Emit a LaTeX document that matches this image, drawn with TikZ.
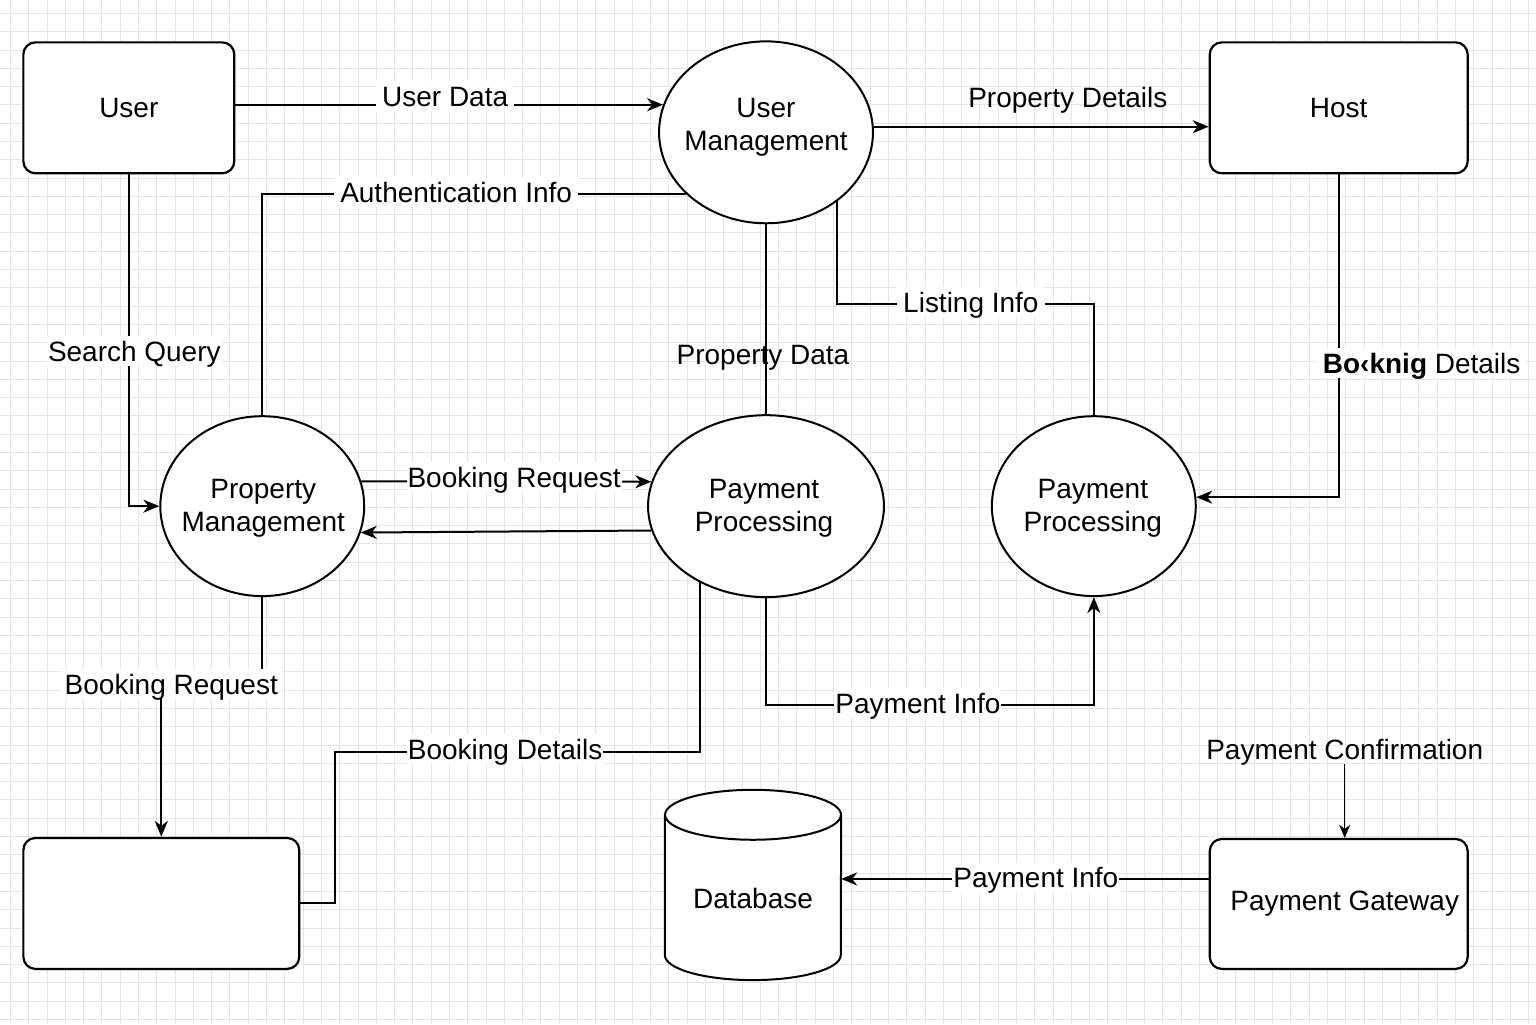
\documentclass[tikz,border=0pt]{standalone}
\usepackage{fontspec}
\setmainfont{Liberation Sans}
\usetikzlibrary{shapes.geometric,arrows.meta}
\begin{document}
\begin{tikzpicture}[x=1pt,y=-1pt,
  every node/.style={font=\fontsize{28}{33}\selectfont},
  box/.style={draw, line width=2.2pt, rounded corners=12pt, fill=white, inner sep=0, align=center},
  proc/.style={draw, ellipse, line width=2pt, fill=white, inner sep=0},
  ptext/.style={align=center, inner sep=0},
  flow/.style={line width=2pt},
  arr/.style={flow, -{Stealth[length=16pt,width=13pt,inset=5pt]}},
  lbl/.style={fill=white, inner xsep=6pt, inner ysep=1pt, text height=24pt, text depth=4pt},
  plainlbl/.style={inner sep=1pt, text height=24pt, text depth=4pt},
  cyl/.style={line width=2pt},
  gridline/.style={draw=black!10, line width=0.8pt}]

% background and grid
\fill[white] (0,0) rectangle (1536,1024);
\foreach \i in {0,...,83} { \draw[gridline] ({10+18.3*\i},0) -- ({10+18.3*\i},1024); }
\foreach \j in {0,...,55} { \draw[gridline] (0,{13+18.3*\j}) -- (1536,{13+18.3*\j}); }

% nodes
\node[box, minimum width=211, minimum height=131] (user) at (128.5,107.5) {User};
\node[box, minimum width=258, minimum height=131] (host) at (1339,107.5) {Host};
\node[box, minimum width=276, minimum height=131] (bk) at (161,903.5) {};
\node[box, minimum width=258, minimum height=130] (gw) at (1339,904) {\hspace*{12pt}Payment Gateway};

\node[proc, minimum width=214, minimum height=182] (um) at (766,132) {};
\node[ptext] (umt) at (766,127) {User\\Management};
\node[proc, minimum width=204, minimum height=180] (pm) at (262,506) {};
\node[ptext] (pmt) at (263,508) {Property\\Management};
\node[proc, minimum width=236, minimum height=182] (pp1) at (766,506) {};
\node[ptext] (pp1t) at (764,508) {Payment\\Processing};
\node[proc, minimum width=204, minimum height=180] (pp2) at (1094,506) {};
\node[ptext] (pp2t) at (1093,508) {Payment\\Processing};

% database
\node[inner sep=0, minimum width=176, minimum height=190] (db) at (753,885) {};
\fill[white] ([yshift=-25pt]db.north west) rectangle ([yshift=25pt]db.south east);
\fill[white] ([yshift=25pt]db.south) ellipse[x radius=88pt, y radius=25pt];
\draw[cyl] ([yshift=-25pt]db.north west) -- ([yshift=25pt]db.south west)
  arc[start angle=180, end angle=360, x radius=88pt, y radius=25pt]
  -- ([yshift=-25pt]db.north east);
\draw[cyl, fill=white] ([yshift=-25pt]db.north) ellipse[x radius=88pt, y radius=25pt];
\node (dbt) at (753,899) {Database};

% helper coordinates
\coordinate (li) at (971,304);
\coordinate (bdc) at (335,752);
\coordinate (pic) at (918,705);
\coordinate (dbin) at ([yshift=6pt]db.east);

% connectors
\draw[arr] (user.east |- um.165) -- (um.165);
\draw[arr] (um.3) -- (host.west |- um.3);
\draw[flow] (um.218) -| (pm.north);
\draw[arr] (user.south) |- (pm.west);
\draw[flow] (um.south) -- (pp1.north);
\draw[flow] (um.316) |- (li) -| (pp2.north);
\draw[arr] (host.south) |- (pp2.5);
\draw[arr] (pm.14) -- (pp1.168);
\draw[arr] (pp1.192) -- (pm.345);
\draw[flow] (bk.east) -| (bdc) -| (pp1.229);
\draw[arr] (pp1.south) |- (pic) -| (pp2.south);
\draw[arr] (gw.west |- dbin) -- (dbin);

% labels
\node[lbl] (l1) at (445,96) {User Data};
\node[plainlbl] (l2) at (1068,97) {Property Details};
\node[lbl] (l3) at (456,192) {Authentication Info};
\node[lbl, inner xsep=1pt] (l4) at (134,351) {Search Query};
\node[plainlbl] (l5) at (763,354) {Property Data};
\node[lbl] (l6) at (971,302) {Listing Info};
\node[lbl] (l7) at (1422,363) {\textbf{Bo‹knig} Details};
\node[lbl, inner xsep=1pt] (l8) at (514,477) {Booking Request};
\node[lbl, inner xsep=1pt] (l11) at (505,749) {Booking Details};
\node[lbl, inner xsep=1pt] (l12) at (918,703) {Payment Info};
\node[lbl, inner xsep=1pt] (l14) at (1036,878) {Payment Info};
\node[plainlbl] (l13) at (1345,749) {Payment Confirmation};
\draw[-{Stealth[length=13pt,width=11pt,inset=4pt]}, line width=1.4pt] (l13.south) -- (l13.south |- gw.north);

% left booking request (down to empty box)
\coordinate (brc) at (171,684);
\draw[arr] (pm.south) |- (brc) -| (bk.north);
\node[lbl, inner xsep=4pt] (l10) at (171,684) {Booking Request};
\end{tikzpicture}
\end{document}
